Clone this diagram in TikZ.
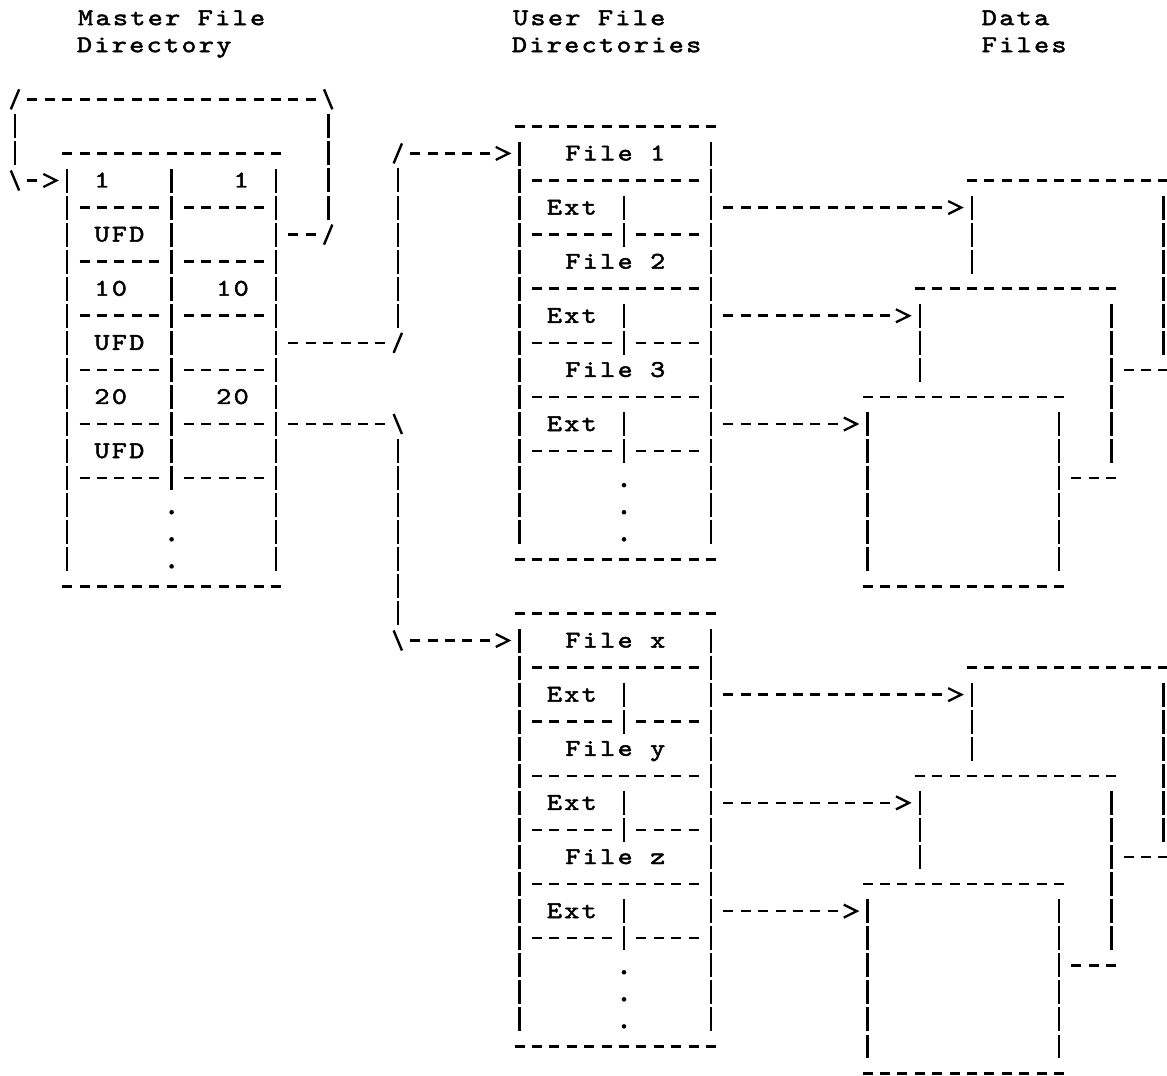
\documentclass[tikz,border=0pt]{standalone}
\usepackage{fontspec}
\newfontfamily\asciifont{lmmono10-regular.otf}[FakeStretch=1.2,LetterSpace=9.6,FakeBold=2]
\usetikzlibrary{positioning}

% a row of "-" characters: columns #1 to #2 on row #3
\newcommand{\dashrow}[3]{\draw[hdash] (#1-0.29,#3) -- (#2+0.29,#3);}
% a column of "|" characters: column #1, rows #2 to #3
\newcommand{\barcol}[3]{\draw[vbar] (#1,#2-0.44) -- (#1,#3+0.44);}

\begin{document}
\begin{tikzpicture}[x=17.4pt, y=-27.06pt,
  txt/.style={font=\asciifont\fontsize{24}{27}\selectfont, inner sep=0pt, anchor=base, yshift=-7pt},
  hdash/.style={line width=2.6pt, dash pattern=on 10pt off 7.4pt},
  vbar/.style={line width=2.6pt, dash pattern=on 24pt off 3.06pt},
  hlink/.style={hdash, shorten <=12.35pt, shorten >=12.35pt},
  vlink/.style={vbar, shorten <=15.06pt, shorten >=15.06pt},
  arrowlink/.style={hdash, shorten <=12.35pt, shorten >=29.75pt},
  slant/.style={line width=2.4pt},
  dotmark/.style={circle, fill, inner sep=0pt, minimum size=4.6pt},
  gt/.pic={\draw[line width=2.3pt, line join=miter] (-0.37,-0.24) -- (0.38,0) -- (-0.37,0.24);},
  fwd/.pic={\draw[slant] (-0.24,0.37) -- (0.24,-0.37);},
  bwd/.pic={\draw[slant] (-0.24,-0.37) -- (0.24,0.37);},
]
  \useasboundingbox (-0.862,-6.670) rectangle (66.207,33.093);

  %% titles
  \node[txt] (mfdtitle) at (9,-6) {Master File};
  \node[txt] (mfdtitle2) at (8,-5) {Directory};
  \node[txt] (ufdtitle) at (33,-6) {User File};
  \node[txt] (ufdtitle2) at (34,-5) {Directories};
  \node[txt] (datatitle) at (57.5,-6) {Data};
  \node[txt] (datatitle2) at (58,-5) {Files};

  %% master file directory
  \dashrow{3}{15}{-1}
  \barcol{3}{0}{14}
  \barcol{9}{0}{11}
  \barcol{15}{0}{14}
  \node[txt] (m-a1) at (5,0) {1};
  \node[txt] (m-b1) at (13,0) {1};
  \dashrow{4}{8}{1} \dashrow{10}{14}{1}
  \node[txt] (m-u1) at (6,2) {UFD};
  \dashrow{4}{8}{3} \dashrow{10}{14}{3}
  \node[txt] (m-a10) at (5.5,4) {10};
  \node[txt] (m-b10) at (12.5,4) {10};
  \dashrow{4}{8}{5} \dashrow{10}{14}{5}
  \node[txt] (m-u10) at (6,6) {UFD};
  \dashrow{4}{8}{7} \dashrow{10}{14}{7}
  \node[txt] (m-a20) at (5.5,8) {20};
  \node[txt] (m-b20) at (12.5,8) {20};
  \dashrow{4}{8}{9} \dashrow{10}{14}{9}
  \node[txt] (m-u20) at (6,10) {UFD};
  \dashrow{4}{8}{11} \dashrow{10}{14}{11}
  \node[dotmark] (m-dot1) at (9,12.26) {};
  \node[dotmark] (m-dot2) at (9,13.26) {};
  \node[dotmark] (m-dot3) at (9,14.26) {};
  \dashrow{3}{15}{15}

  \coordinate (mfd-w0) at (3,0);
  \coordinate (mfd-e2) at (15,2);
  \coordinate (mfd-e6) at (15,6);
  \coordinate (mfd-e9) at (15,9);

  %% user file directory for UFD 1
  \dashrow{29}{40}{-2}
  \barcol{29}{-1}{13}
  \barcol{40}{-1}{13}
  \node[txt] (u1-f1) at (34.5,-1) {File 1};
  \dashrow{30}{39}{0}
  \node[txt] (u1-x1) at (32,1) {Ext};
  \dashrow{30}{34}{2} \dashrow{36}{39}{2} \barcol{35}{1}{2}
  \node[txt] (u1-f2) at (34.5,3) {File 2};
  \dashrow{30}{39}{4}
  \node[txt] (u1-x2) at (32,5) {Ext};
  \dashrow{30}{34}{6} \dashrow{36}{39}{6} \barcol{35}{5}{6}
  \node[txt] (u1-f3) at (34.5,7) {File 3};
  \dashrow{30}{39}{8}
  \node[txt] (u1-x3) at (32,9) {Ext};
  \dashrow{30}{34}{10} \dashrow{36}{39}{10} \barcol{35}{9}{10}
  \node[dotmark] (u1-dot1) at (35,11.26) {};
  \node[dotmark] (u1-dot2) at (35,12.26) {};
  \node[dotmark] (u1-dot3) at (35,13.26) {};
  \dashrow{29}{40}{14}

  \coordinate (ufd1-w) at (29,-1);
  \coordinate (ufd1-e1) at (40,1);
  \coordinate (ufd1-e2) at (40,5);
  \coordinate (ufd1-e3) at (40,9);

  %% user file directory for UFD 20
  \dashrow{29}{40}{16}
  \barcol{29}{17}{31}
  \barcol{40}{17}{31}
  \node[txt] (u2-fx) at (34.5,17) {File x};
  \dashrow{30}{39}{18}
  \node[txt] (u2-x1) at (32,19) {Ext};
  \dashrow{30}{34}{20} \dashrow{36}{39}{20} \barcol{35}{19}{20}
  \node[txt] (u2-fy) at (34.5,21) {File y};
  \dashrow{30}{39}{22}
  \node[txt] (u2-x2) at (32,23) {Ext};
  \dashrow{30}{34}{24} \dashrow{36}{39}{24} \barcol{35}{23}{24}
  \node[txt] (u2-fz) at (34.5,25) {File z};
  \dashrow{30}{39}{26}
  \node[txt] (u2-x3) at (32,27) {Ext};
  \dashrow{30}{34}{28} \dashrow{36}{39}{28} \barcol{35}{27}{28}
  \node[dotmark] (u2-dot1) at (35,29.26) {};
  \node[dotmark] (u2-dot2) at (35,30.26) {};
  \node[dotmark] (u2-dot3) at (35,31.26) {};
  \dashrow{29}{40}{32}

  \coordinate (ufd2-w) at (29,17);
  \coordinate (ufd2-e1) at (40,19);
  \coordinate (ufd2-e2) at (40,23);
  \coordinate (ufd2-e3) at (40,27);

  %% data files, upper stack
  \dashrow{55}{66}{0} \barcol{55}{1}{3} \barcol{66}{1}{6} \dashrow{64}{66}{7}
  \dashrow{52}{63}{4} \barcol{52}{5}{7} \barcol{63}{5}{10} \dashrow{61}{63}{11}
  \dashrow{49}{60}{8} \barcol{49}{9}{14} \barcol{60}{9}{14} \dashrow{49}{60}{15}
  \coordinate (file1) at (55,1);
  \coordinate (file2) at (52,5);
  \coordinate (file3) at (49,9);

  %% data files, lower stack
  \dashrow{55}{66}{18} \barcol{55}{19}{21} \barcol{66}{19}{24} \dashrow{64}{66}{25}
  \dashrow{52}{63}{22} \barcol{52}{23}{25} \barcol{63}{23}{28} \dashrow{61}{63}{29}
  \dashrow{49}{60}{26} \barcol{49}{27}{32} \barcol{60}{27}{32} \dashrow{49}{60}{33}
  \coordinate (filex) at (55,19);
  \coordinate (filey) at (52,23);
  \coordinate (filez) at (49,27);

  %% MFD points to itself
  \coordinate (loop-se) at (18,2);
  \coordinate (loop-ne) at (18,-3);
  \coordinate (loop-nw) at (0,-3);
  \coordinate (loop-sw) at (0,0);
  \draw[hlink] (mfd-e2) -- (loop-se);
  \pic at (loop-se) {fwd};
  \draw[vlink] (loop-se) -- (loop-ne);
  \pic at (loop-ne) {bwd};
  \draw[hlink] (loop-ne) -- (loop-nw);
  \pic at (loop-nw) {fwd};
  \draw[vlink] (loop-nw) -- (loop-sw);
  \pic at (loop-sw) {bwd};
  \draw[arrowlink] (loop-sw) -- (mfd-w0);
  \pic at ([xshift=-17.4pt]mfd-w0) {gt};

  %% MFD entry 10 to UFD 1
  \coordinate (up-s) at (22,6);
  \coordinate (up-n) at (22,-1);
  \draw[hlink] (mfd-e6) -- (up-s);
  \pic at (up-s) {fwd};
  \draw[vlink] (up-s) -- (up-n);
  \pic at (up-n) {fwd};
  \draw[arrowlink] (up-n) -- (ufd1-w);
  \pic at ([xshift=-17.4pt]ufd1-w) {gt};

  %% MFD entry 20 to UFD 20
  \coordinate (down-n) at (22,9);
  \coordinate (down-s) at (22,17);
  \draw[hlink] (mfd-e9) -- (down-n);
  \pic at (down-n) {bwd};
  \draw[vlink] (down-n) -- (down-s);
  \pic at (down-s) {bwd};
  \draw[arrowlink] (down-s) -- (ufd2-w);
  \pic at ([xshift=-17.4pt]ufd2-w) {gt};

  %% extents to data files
  \draw[arrowlink] (ufd1-e1) -- (file1); \pic at ([xshift=-17.4pt]file1) {gt};
  \draw[arrowlink] (ufd1-e2) -- (file2); \pic at ([xshift=-17.4pt]file2) {gt};
  \draw[arrowlink] (ufd1-e3) -- (file3); \pic at ([xshift=-17.4pt]file3) {gt};
  \draw[arrowlink] (ufd2-e1) -- (filex); \pic at ([xshift=-17.4pt]filex) {gt};
  \draw[arrowlink] (ufd2-e2) -- (filey); \pic at ([xshift=-17.4pt]filey) {gt};
  \draw[arrowlink] (ufd2-e3) -- (filez); \pic at ([xshift=-17.4pt]filez) {gt};
\end{tikzpicture}
\end{document}
